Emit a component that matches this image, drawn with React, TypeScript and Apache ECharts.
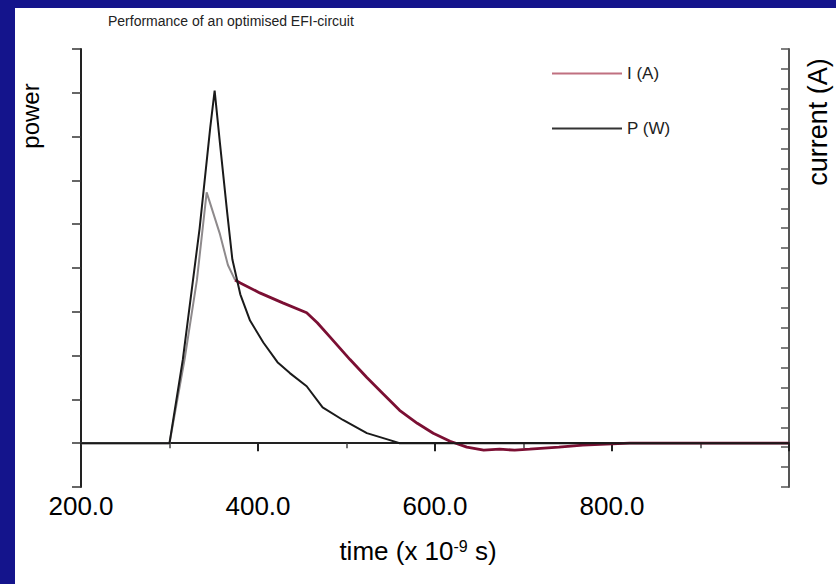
import React, { useEffect, useRef } from "react";
import * as echarts from "echarts";

const chartTitle = "Performance of an optimised EFI-circuit";
const xTicks = [200, 400, 600, 800, 1000];

// time (x 10^-9 s) and power (arbitrary units) for P (W)
const powerTime = [200, 300, 315, 334, 346, 351, 357, 365, 371, 380, 391, 406, 422, 436, 455, 473, 496, 523, 549, 560, 1000];
const powerVal = [0, 0, 1.9, 4.9, 7.2, 8.05, 6.85, 5.3, 4.2, 3.4, 2.8, 2.3, 1.85, 1.6, 1.3, 0.82, 0.53, 0.23, 0.07, 0, 0];

// time (x 10^-9 s) and current for I (A)
const currentTime = [200, 300, 317, 331, 342, 357, 366, 374, 380, 402, 428, 455, 467, 481, 504, 523, 541, 560, 580, 598, 617, 636, 655, 673, 690, 707, 740, 767, 820, 1000];
const currentVal = [0.2, 0.2, 4.4, 8.4, 12.8, 10.7, 9.15, 8.4, 8.25, 7.75, 7.25, 6.75, 6.25, 5.55, 4.4, 3.5, 2.7, 1.85, 1.2, 0.7, 0.3, 0.0, -0.15, -0.1, -0.15, -0.1, 0.0, 0.1, 0.2, 0.2];
// the early (rise/peak) part of the current trace is printed grey in the original
const currentSplitTime = 374;

const FONT = "'Liberation Sans', Arial, sans-serif";

export default function App() {
  const ref = useRef<HTMLDivElement>(null);

  useEffect(() => {
    document.body.style.margin = "0";
    if (!ref.current) return;
    const chart = echarts.init(ref.current, undefined, { renderer: "svg" });
    const pData = powerTime.map((t, i) => [t, powerVal[i]]);
    const iData = currentTime.map((t, i) => [t, currentVal[i]]);
    const iEarly = iData.filter((d) => d[0] <= currentSplitTime);
    const iLate = iData.filter((d) => d[0] >= currentSplitTime);
    chart.setOption({
      animation: false,
      backgroundColor: "#ffffff",
      textStyle: { fontFamily: FONT },
      title: {
        text: chartTitle,
        left: 88,
        top: 1,
        textStyle: { fontSize: 14, fontWeight: "normal", color: "#222", fontFamily: FONT },
      },
      legend: {
        orient: "vertical",
        left: 532,
        top: 52,
        icon: "rect",
        itemWidth: 70,
        itemHeight: 2,
        itemGap: 38,
        textStyle: { fontSize: 17, color: "#222", fontFamily: FONT },
        data: [
          { name: "I (A)", itemStyle: { color: "#c07080" } },
          { name: "P (W)", itemStyle: { color: "#333333" } },
        ],
      },
      grid: { left: 66, top: 41, right: 47, bottom: 97 },
      xAxis: {
        type: "value",
        min: 200,
        max: 1000,
        interval: 200,
        axisLine: { lineStyle: { color: "#222", width: 2 } },
        axisTick: { show: true, inside: false, length: 8, lineStyle: { color: "#222", width: 2 } },
        minorTick: { show: true, splitNumber: 2, length: 5, lineStyle: { color: "#444", width: 1.5 } },
        splitLine: { show: false },
        axisLabel: {
          fontSize: 26,
          color: "#000",
          margin: 6,
          fontFamily: FONT,
          formatter: (v: number) => (xTicks.indexOf(v) >= 0 && v < 1000 ? v.toFixed(1) : ""),
        },
      },
      yAxis: [
        {
          type: "value",
          position: "left",
          min: -1,
          max: 9,
          interval: 1,
          axisLine: { show: true, onZero: false, lineStyle: { color: "#222", width: 2 } },
          axisTick: { show: true, inside: false, length: 9, lineStyle: { color: "#333", width: 1.5 } },
          axisLabel: { show: false },
          splitLine: { show: false },
        },
        {
          type: "value",
          position: "right",
          min: -2,
          max: 20,
          interval: 1,
          axisLine: { show: true, onZero: false, lineStyle: { color: "#555", width: 2 } },
          axisTick: { show: true, inside: true, length: 8, lineStyle: { color: "#555", width: 1.5 } },
          axisLabel: { show: false },
          splitLine: { show: false },
        },
      ],
      series: [
        {
          name: "I (A)",
          type: "line",
          yAxisIndex: 1,
          symbol: "none",
          data: iEarly,
          lineStyle: { width: 2, color: "#8e8a8c" },
          itemStyle: { color: "#c07080" },
          z: 2,
        },
        {
          name: "I (A)",
          type: "line",
          yAxisIndex: 1,
          symbol: "none",
          data: iLate,
          lineStyle: { width: 2.8, color: "#7b0f33" },
          itemStyle: { color: "#c07080" },
          z: 2,
        },
        {
          name: "P (W)",
          type: "line",
          yAxisIndex: 0,
          symbol: "none",
          data: pData,
          lineStyle: { width: 2, color: "#1a1a1a" },
          itemStyle: { color: "#333333" },
          z: 3,
        },
      ],
      graphic: [
        {
          type: "text",
          x: 15,
          y: 108,
          rotation: Math.PI / 2,
          style: { text: "power", fontSize: 24, fontFamily: FONT, fill: "#000", textAlign: "center", textVerticalAlign: "middle" },
        },
        {
          type: "text",
          x: 803,
          y: 114,
          rotation: Math.PI / 2,
          style: { text: "current (A)", fontSize: 27, fontFamily: FONT, fill: "#000", textAlign: "center", textVerticalAlign: "middle" },
        },
        {
          type: "text",
          x: 403,
          y: 543,
          style: {
            text: "time (x 10{sup|-9} s)",
            fontSize: 26,
            fontFamily: FONT,
            fill: "#000",
            textAlign: "center",
            textVerticalAlign: "middle",
            rich: {
              sup: { fontSize: 16, fontFamily: FONT, fill: "#000", verticalAlign: "top", padding: [0, 0, 10, 0] },
            },
          },
        },
      ],
    });
    return () => chart.dispose();
  }, []);

  return (
    <div style={{ position: "fixed", left: 0, top: 0, width: 836, height: 584, background: "#14148c" }}>
      <div ref={ref} style={{ position: "absolute", left: 15, top: 8, width: 821, height: 576 }} />
    </div>
  );
}
